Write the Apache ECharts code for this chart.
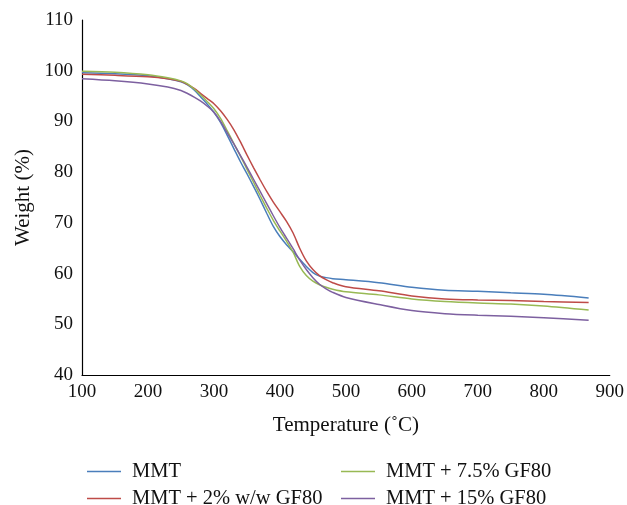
<!DOCTYPE html>
<html>
<head>
<meta charset="utf-8">
<script src="https://cdn.jsdelivr.net/npm/echarts@6/dist/echarts.min.js"></script>
<style>
  html, body { margin: 0; padding: 0; background: #fff; }
  #main { width: 627px; height: 505px; }
</style>
</head>
<body>
<div id="main"></div>
<script>
// temperature (°C) sample points shared by all curves
var temps = [100, 150, 200, 230, 250, 260, 270, 280, 290, 300, 310, 320, 330, 340, 350, 360, 370, 380, 390, 400,
             410, 420, 430, 440, 450, 460, 470, 480, 500, 550, 600, 650, 700, 750, 800, 868];

var mmt    = [99.6, 99.4, 99.0, 98.4, 97.8, 97.2, 96.2, 94.8, 93.4, 91.8, 89.8, 87.3, 84.7, 82.1, 79.7, 77.2, 74.6, 71.9, 69.3, 67.3,
              65.7, 64.3, 62.8, 61.4, 60.2, 59.5, 59.2, 59.0, 58.8, 58.2, 57.3, 56.7, 56.5, 56.2, 55.9, 55.2];
var mmt2   = [99.3, 99.1, 98.8, 98.4, 97.9, 97.3, 96.5, 95.5, 94.5, 93.5, 92.1, 90.4, 88.4, 86.0, 83.4, 80.9, 78.5, 76.2, 74.1, 72.2,
              70.3, 68.0, 65.0, 62.5, 60.8, 59.6, 58.8, 58.2, 57.4, 56.6, 55.6, 55.0, 54.8, 54.7, 54.5, 54.3];
var mmt75  = [99.9, 99.7, 99.2, 98.6, 98.0, 97.4, 96.4, 95.2, 93.9, 92.5, 90.6, 88.2, 85.7, 83.2, 80.6, 78.0, 75.4, 72.9, 70.5, 68.4,
              66.4, 64.2, 61.4, 59.6, 58.5, 57.8, 57.3, 56.9, 56.4, 55.8, 55.0, 54.5, 54.2, 54.0, 53.6, 52.8];
var mmt15  = [98.4, 98.0, 97.4, 96.8, 96.1, 95.5, 94.8, 94.0, 93.0, 91.8, 90.0, 87.8, 85.6, 83.3, 81.0, 78.6, 76.2, 73.8, 71.4, 69.1,
              67.0, 64.9, 62.7, 60.8, 59.2, 57.9, 57.0, 56.3, 55.3, 53.9, 52.7, 52.1, 51.8, 51.6, 51.3, 50.8];

var names  = ['MMT', 'MMT + 2% w/w GF80', 'MMT + 7.5% GF80', 'MMT + 15% GF80'];
var colors = ['#4a7ebb', '#be4b48', '#98b954', '#7d60a0'];

function pairs(vals) {
    return temps.map(function (t, i) { return [t, vals[i]]; });
}

var font = '"Liberation Serif", "DejaVu Serif", serif';
var myChart = echarts.init(document.getElementById('main'));

var series = [mmt, mmt2, mmt75, mmt15].map(function (vals, i) {
    return {
        name: names[i],
        type: 'line',
        data: pairs(vals),
        smooth: 0.3,
        showSymbol: false,
        lineStyle: { color: colors[i], width: 1.5 },
        itemStyle: { color: colors[i] }
    };
});

var legendBase = {
    orient: 'vertical',
    top: 456,
    height: 80,
    itemWidth: 34,
    itemHeight: 1.5,
    itemGap: 6,
    icon: 'rect',
    textStyle: { fontFamily: font, fontSize: 20.5, lineHeight: 21, color: '#111', padding: [0, 0, 0, 6] }
};

option = {
    backgroundColor: '#fff',
    animation: false,
    grid: { left: 82, right: 15, top: 20, bottom: 130 },
    legend: [
        Object.assign({ left: 82, data: [names[0], names[1]] }, legendBase),
        Object.assign({ left: 336, data: [names[2], names[3]] }, legendBase)
    ],
    xAxis: {
        type: 'value',
        min: 100,
        max: 900,
        interval: 100,
        name: 'Temperature (˚C)',
        nameLocation: 'middle',
        nameGap: 40,
        nameTextStyle: { fontFamily: font, fontSize: 21, color: '#111' },
        axisLine: { lineStyle: { color: '#000', width: 1.2 } },
        axisTick: { show: false },
        splitLine: { show: false },
        axisLabel: { fontFamily: font, fontSize: 19, color: '#111', margin: 8 }
    },
    yAxis: {
        type: 'value',
        min: 40,
        max: 110,
        interval: 10,
        name: 'Weight (%)',
        nameLocation: 'middle',
        nameGap: 48,
        nameTextStyle: { fontFamily: font, fontSize: 21, color: '#111' },
        axisLine: { show: true, lineStyle: { color: '#000', width: 1.2 } },
        axisTick: { show: false },
        splitLine: { show: false },
        axisLabel: { fontFamily: font, fontSize: 19, color: '#111', margin: 9 }
    },
    series: series
};
myChart.setOption(option);
</script>
</body>
</html>
